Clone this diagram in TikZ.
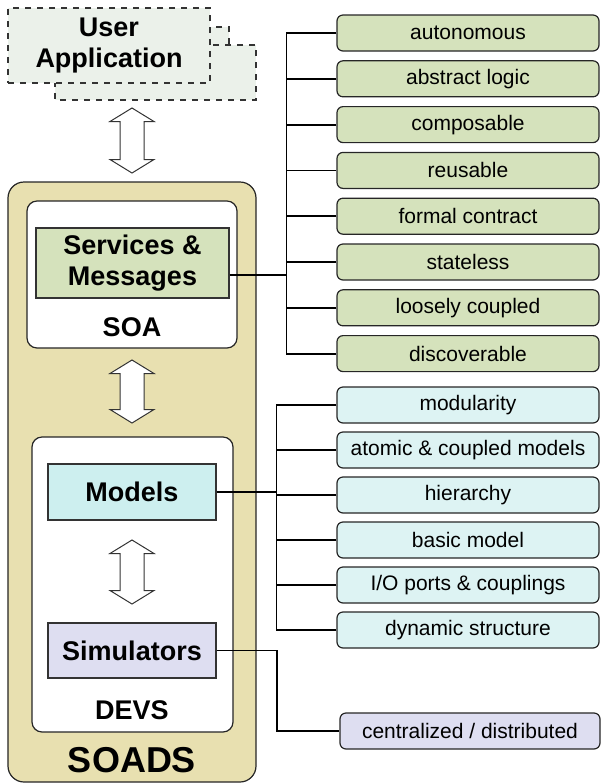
\documentclass[tikz,border=0pt]{standalone}
\usepackage{fontspec}
\setmainfont{Liberation Sans}

\definecolor{soadsTan}{HTML}{E8E0B0}
\definecolor{soaGreen}{HTML}{D5E2BC}
\definecolor{modelCyan}{HTML}{CDEFEF}
\definecolor{featCyan}{HTML}{DDF3F3}
\definecolor{simLilac}{HTML}{DEDEF1}
\definecolor{appGray}{HTML}{EBF1EA}

\tikzset{
	docpage/.style={draw=black!80, dashed, line width=0.6pt, fill=appGray},
	layer/.style={draw=black!85, line width=0.6pt, fill=white, rounded corners=5pt},
	part/.style={draw=black!80, line width=0.6pt, inner sep=0pt, align=center,
		font=\bfseries\fontsize{13.5}{15.5}\selectfont},
	caption/.style={font=\bfseries\fontsize{13.5}{16}\selectfont},
	feature/.style={draw=black!85, line width=0.6pt, rounded corners=3pt,
		minimum width=131pt, minimum height=18pt, inner sep=0pt,
		font=\fontsize{10.5}{12}\selectfont},
	tie/.style={line width=0.9pt},
	hollow/.style={draw=black!80, line width=0.5pt, fill=white}
}

% hollow two-way arrow: x, top tip, bottom tip
\newcommand\twoway[3]{
	\draw[hollow] (#1,#2) -- ({#1+22},{#2+13.5}) -- ({#1+12},{#2+13.5})
		-- ({#1+12},{#3-13.5}) -- ({#1+22},{#3-13.5}) -- (#1,#3)
		-- ({#1-22},{#3-13.5}) -- ({#1-12},{#3-13.5}) -- ({#1-12},{#2+13.5})
		-- ({#1-22},{#2+13.5}) -- cycle;
}

\begin{document}
\begin{tikzpicture}[x=0.5pt, y=-0.5pt]
	\useasboundingbox (0,0) rectangle (601,784);

	% user application, stacked pages
	\draw[docpage] (60,27) rectangle (229,95);
	\draw[docpage] (55,45) rectangle (256,100);
	\node[docpage, minimum width=101pt, minimum height=37.5pt, inner sep=0pt,
		align=center, font=\bfseries\fontsize{13.5}{15.5}\selectfont]
		(app) at (109,45.5) {User\\Application};
	\twoway{132}{108}{173}

	% SOADS frame
	\node[draw=black!85, line width=0.6pt, fill=soadsTan, rounded corners=8pt,
		minimum width=124pt, minimum height=300pt] (soads) at (132,482) {};
	\node[font=\bfseries\fontsize{18}{20}\selectfont] (soadsLbl) at (132,760) {SOADS};

	% SOA layer
	\node[layer, minimum width=105pt, minimum height=73.5pt] (soa) at (132,274.5) {};
	\node[part, fill=soaGreen, minimum width=96.5pt, minimum height=35pt]
		(services) at (132.5,263) {Services \&\\Messages};
	\node[caption] (soaLbl) at (132,327) {SOA};
	\twoway{132}{360}{423}

	% DEVS layer
	\node[layer, minimum width=100.5pt, minimum height=147.5pt] (devs) at (132.5,584.5) {};
	\node[part, fill=modelCyan, minimum width=84pt, minimum height=28pt]
		(models) at (132,492) {Models};
	\twoway{132}{540}{604}
	\node[part, fill=simLilac, minimum width=84pt, minimum height=27.5pt]
		(simulators) at (132,650.5) {Simulators};
	\node[caption] (devsLbl) at (132,710) {DEVS};

	% SOA properties
	\foreach \txt [count=\i] in {autonomous, abstract logic, composable, reusable,
		formal contract, stateless, loosely coupled, discoverable}
		\node[feature, fill=soaGreen] (soa\i) at (468,{33+45.8*(\i-1)}) {\txt};
	\foreach \i in {1,...,8}
		\draw[tie] (soa\i.west) -- ++(-50,0);
	\draw[tie] ([xshift=-25pt]soa1.west) -- ([xshift=-25pt]soa8.west);
	\coordinate (soaTrunk) at (287,275);
	\draw[tie] ([yshift=-6pt]services.east) -- (soaTrunk);

	% DEVS properties
	\foreach \txt [count=\i] in {modularity, atomic \& coupled models, hierarchy,
		basic model, I/O ports \& couplings, dynamic structure}
		\node[feature, fill=featCyan] (devs\i) at (468,{405+45*(\i-1)}) {\txt};
	\foreach \i in {1,...,6}
		\draw[tie] (devs\i.west) -- ++(-60,0);
	\draw[tie] ([xshift=-30pt]devs1.west) -- ([xshift=-30pt]devs6.west);
	\coordinate (devsTrunk) at (277,492);
	\draw[tie] (models.east) -- (devsTrunk);

	% simulator property
	\node[feature, fill=simLilac, minimum width=130pt] (central) at (470,731)
		{centralized / distributed};
	\coordinate (simBend) at (277,731);
	\draw[line width=0.6pt] (simulators.east) -| (simBend) -- (central.west);
\end{tikzpicture}
\end{document}
